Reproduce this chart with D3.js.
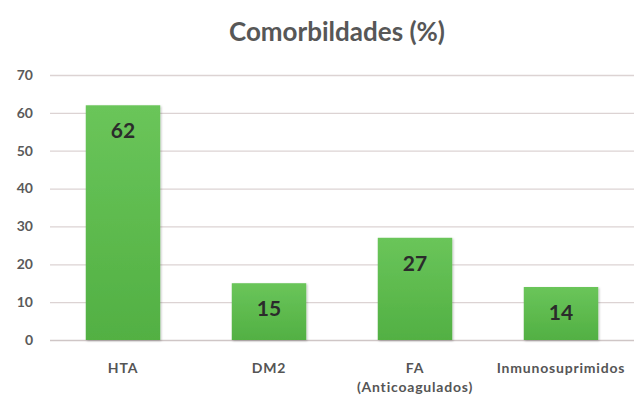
<!DOCTYPE html>
<html>
<head>
<meta charset="utf-8">
<script src="https://cdn.jsdelivr.net/npm/d3@7"></script>
<style>
  body { margin: 0; background: #fff; }
  svg { display: block; font-family: Lato, "Open Sans", sans-serif; }
</style>
</head>
<body>
<svg id="chart" width="636" height="399"></svg>
<script>
const categories = ["HTA", "DM2", "FA|(Anticoagulados)", "Inmunosuprimidos"];
const values = [62, 15, 27, 14];
const yTicks = [0, 10, 20, 30, 40, 50, 60, 70];
const title = "Comorbildades (%)";

(function () {
  const svg = d3.select("#chart");
  const left = 50, right = 634, top = 75, bottom = 340;

  const x = d3.scaleBand()
    .domain(categories)
    .range([left, right])
    .paddingInner(0.49)
    .paddingOuter(0.245);
  const y = d3.scaleLinear().domain([0, 70]).range([bottom, top]);

  const defs = svg.append("defs");
  const grad = defs.append("linearGradient")
    .attr("id", "barFill")
    .attr("x1", 0).attr("y1", 0).attr("x2", 0).attr("y2", 1);
  grad.append("stop").attr("offset", "0%").attr("stop-color", "#6ac55a");
  grad.append("stop").attr("offset", "100%").attr("stop-color", "#52b043");

  const shadow = defs.append("filter").attr("id", "shadow")
    .attr("x", "-10%").attr("y", "-10%").attr("width", "130%").attr("height", "130%");
  shadow.append("feDropShadow")
    .attr("dx", 1).attr("dy", 1).attr("stdDeviation", 1.2)
    .attr("flood-color", "#000").attr("flood-opacity", 0.25);

  svg.append("text")
    .attr("x", 337)
    .attr("y", 41)
    .attr("text-anchor", "middle")
    .attr("font-size", 26)
    .attr("font-weight", 700)
    .attr("fill", "#575757")
    .text(title);

  // gridlines + y labels
  svg.append("g")
    .selectAll("line")
    .data(yTicks)
    .join("line")
    .attr("x1", left)
    .attr("x2", right)
    .attr("y1", (d) => y(d) + 0.5)
    .attr("y2", (d) => y(d) + 0.5)
    .attr("stroke", (d) => d === 0 ? "#cfc6c6" : "#dcd3d3")
    .attr("stroke-width", 1.3);

  svg.append("g")
    .selectAll("text")
    .data(yTicks)
    .join("text")
    .attr("x", 33)
    .attr("y", (d) => y(d))
    .attr("dy", "0.35em")
    .attr("text-anchor", "end")
    .attr("font-size", 14)
    .attr("font-weight", 700)
    .attr("fill", "#5a5a5a")
    .text((d) => d);

  const bars = categories.map((c, i) => ({ key: c, value: values[i] }));

  svg.append("g")
    .selectAll("rect")
    .data(bars)
    .join("rect")
    .attr("x", (d) => x(d.key))
    .attr("y", (d) => y(d.value))
    .attr("width", x.bandwidth())
    .attr("height", (d) => y(0) - y(d.value))
    .attr("fill", "url(#barFill)")
    .attr("filter", "url(#shadow)");

  svg.append("g")
    .selectAll("text")
    .data(bars)
    .join("text")
    .attr("x", (d) => x(d.key) + x.bandwidth() / 2)
    .attr("y", (d) => y(d.value) + 33)
    .attr("text-anchor", "middle")
    .attr("font-size", 21)
    .attr("font-weight", 700)
    .attr("fill", "#2b2b2b")
    .text((d) => d.value);

  const xl = svg.append("g")
    .selectAll("text")
    .data(categories)
    .join("text")
    .attr("x", (d) => x(d) + x.bandwidth() / 2)
    .attr("y", 373)
    .attr("text-anchor", "middle")
    .attr("font-size", 14)
    .attr("font-weight", 700)
    .attr("letter-spacing", 0.8)
    .attr("fill", "#555");
  xl.selectAll("tspan")
    .data((d) => d.split("|").map((t, i) => ({ t, i, c: d })))
    .join("tspan")
    .attr("x", (p) => x(p.c) + x.bandwidth() / 2)
    .attr("dy", (p) => p.i === 0 ? 0 : 19)
    .text((p) => p.t);
})();
</script>
</body>
</html>
